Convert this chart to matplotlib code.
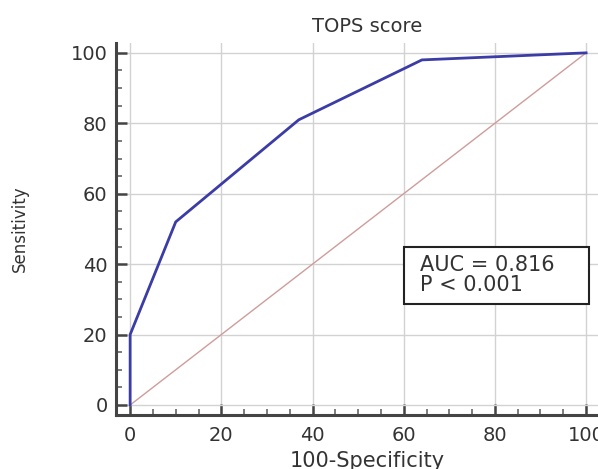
import matplotlib
matplotlib.use("Agg")
import matplotlib.pyplot as plt
from matplotlib.patches import Rectangle
from matplotlib.ticker import MultipleLocator

plt.rcParams["font.family"] = ["DejaVu Sans"]

# ROC curve points
fpr = [0, 0, 10, 37, 64, 100]   # 100-Specificity
tpr = [0, 20, 52, 81, 98, 100]  # Sensitivity
diag = [0, 100]

title = "TOPS score"
auc_text = "AUC = 0.816\nP < 0.001"

C_TEXT = "#333333"
C_AXIS = "#444444"

fig = plt.figure(figsize=(5.98, 4.69), dpi=100)
ax = fig.add_axes([116 / 598, 54 / 469, 502 / 598, 372 / 469])

ax.plot(diag, diag, color="#cf9c9c", lw=1.0, zorder=2)
ax.plot(fpr, tpr, color="#3c3ca6", lw=2.0, zorder=3, solid_joinstyle="miter")

ax.set_xlim(-3.1, 107)
ax.set_ylim(-2.84, 102.8)
ax.xaxis.set_major_locator(MultipleLocator(20))
ax.yaxis.set_major_locator(MultipleLocator(20))
ax.xaxis.set_minor_locator(MultipleLocator(5))
ax.yaxis.set_minor_locator(MultipleLocator(5))
ax.set_xticks([0, 20, 40, 60, 80, 100])

ax.grid(which="major", color="#d2d2d2", lw=1.0, zorder=0)

for s in ["top", "right"]:
    ax.spines[s].set_visible(False)
for s in ["left", "bottom"]:
    ax.spines[s].set_color(C_AXIS)
    ax.spines[s].set_linewidth(2.2)

ax.tick_params(which="major", direction="in", length=8, width=1.8, color=C_AXIS,
               labelsize=14, labelcolor=C_TEXT)
ax.tick_params(axis="x", which="major", pad=8)
ax.tick_params(axis="y", which="major", pad=6)
ax.tick_params(which="minor", direction="in", length=4, width=1.2, color="#666666")

ax.set_title(title, fontsize=14, color=C_TEXT, pad=8)
ax.set_xlabel("100-Specificity", fontsize=15, color=C_TEXT, labelpad=4)
ax.set_ylabel("Sensitivity", fontsize=12, color=C_TEXT, labelpad=30)

# AUC box
ax.add_patch(Rectangle((0.5737, 0.2984), 0.3685, 0.1532, transform=ax.transAxes,
                       fc="white", ec="#222222", lw=1.5, zorder=4))
ax.text(0.606, 0.376, auc_text, transform=ax.transAxes, fontsize=15, color=C_TEXT,
        va="center", ha="left", linespacing=1.0, zorder=5)

fig.savefig("out.png", dpi=100)
